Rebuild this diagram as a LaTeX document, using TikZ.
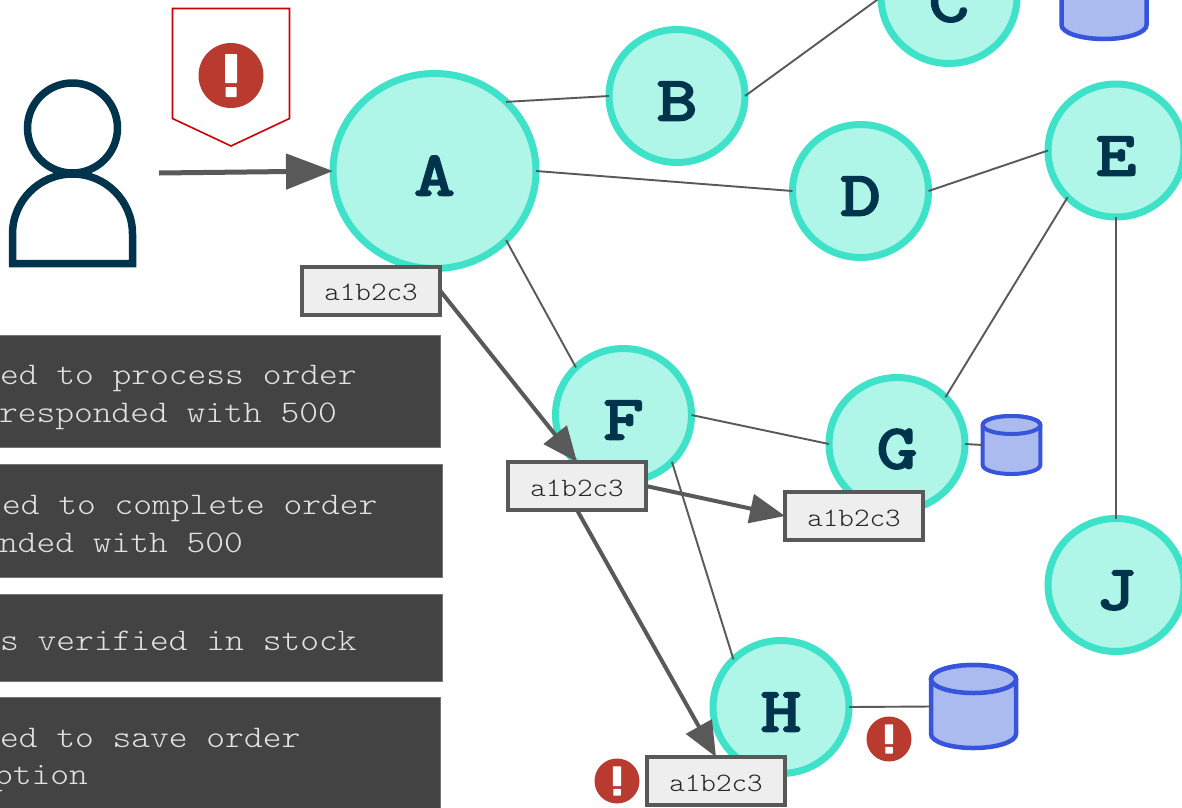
\documentclass[tikz,border=0pt]{standalone}
\usepackage{fontspec}
\usetikzlibrary{arrows.meta,shapes.geometric}
\newfontfamily\boldmono[FakeStretch=1.26,FakeBold=4]{Latin Modern Mono}
\newfontfamily\lightmono[FakeStretch=1.12]{Latin Modern Mono Light}
\newfontfamily\logmono[FakeStretch=1.135]{Latin Modern Mono Light}
\definecolor{ringc}{HTML}{3EE2C9}
\definecolor{fillc}{HTML}{AFF5E8}
\definecolor{inkc}{HTML}{00344D}
\definecolor{arrowc}{HTML}{595959}
\definecolor{alertc}{HTML}{B93A2F}
\definecolor{cylfill}{HTML}{ABBAEF}
\definecolor{cylline}{HTML}{3654DC}
\definecolor{darkc}{HTML}{434343}
\definecolor{darkline}{HTML}{757575}
\definecolor{tagfill}{HTML}{EEEEEE}
\definecolor{logink}{HTML}{E2E2E2}
\tikzset{
  svc/.style={ellipse,draw=ringc,fill=fillc,line width=7pt,outer sep=0pt,inner sep=0pt,
    minimum width=136pt,minimum height=133pt},
  bigsvc/.style={svc,minimum width=203pt,minimum height=195pt},
  svclabel/.style={anchor=base,inner sep=0pt,outer sep=0pt,text=inkc,
    font={\boldmono\fontsize{62}{62}\selectfont}},
  thin link/.style={draw=arrowc,line width=1.9pt},
  flow/.style={draw=arrowc,line width=4pt,-{Triangle[length=35pt,width=29pt]}},
  mainflow/.style={draw=arrowc,line width=5pt,-{Triangle[length=47pt,width=35pt]}},
  tag/.style={rectangle,draw=arrowc,fill=tagfill,line width=4pt,outer sep=0pt,inner sep=0pt,
    minimum width=138pt,minimum height=48pt},
  taglabel/.style={anchor=base,inner sep=0pt,outer sep=0pt,text=black!85,
    font={\lightmono\fontsize{26.5}{26.5}\selectfont}},
  logbox/.style={rectangle,draw=darkline,fill=darkc,line width=1pt,inner sep=0pt,outer sep=0pt,anchor=north west},
  logtext/.style={anchor=base west,inner sep=0pt,outer sep=0pt,text=logink,
    font={\logmono\fontsize{31.5}{31.5}\selectfont}},
  dbanchor/.style={rectangle,inner sep=0pt,outer sep=0pt},
  alertdot/.style={circle,fill=alertc,inner sep=0pt,outer sep=0pt}
}
\newcommand{\alertbars}[2]{% center name, scale
  \fill[white,rounded corners=.6pt] ([xshift=-6*#2 pt,yshift=21.5*#2 pt]#1.center) rectangle ([xshift=6*#2 pt,yshift=-7.5*#2 pt]#1.center);
  \fill[white,rounded corners=.6pt] ([xshift=-5.5*#2 pt,yshift=-11.5*#2 pt]#1.center) rectangle ([xshift=5.5*#2 pt,yshift=-21.5*#2 pt]#1.center);
}
% name, cx, cap y, rx, ry, side end y, line width
\newcommand{\dbshape}[7]{%
  \draw[draw=cylline,fill=cylfill,line width=#7pt] (#2-#4,#3) -- (#2-#4,#6) arc[start angle=180,end angle=0,x radius=#4,y radius=#5] -- (#2+#4,#3) arc[start angle=0,end angle=-180,x radius=#4,y radius=#5] -- cycle;
  \draw[draw=cylline,fill=cylfill,line width=#7pt] (#2,#3) ellipse[x radius=#4,y radius=#5];
  \node[dbanchor,minimum width=2*#4 pt,minimum height=#6-#3 pt] (#1) at (#2,{(#3+#6)/2}) {};
}
\begin{document}
\begin{tikzpicture}[x=1pt,y=-1pt]
\useasboundingbox (0,0) rectangle (1182,807);
\clip (0,0) rectangle (1182,807);
\fill[white] (0,0) rectangle (1182,807);

% person
\node[circle,draw=inkc,line width=7.5pt,minimum size=90pt,inner sep=0pt,outer sep=0pt] (head) at (72.5,128) {};
\draw[inkc,line width=7.5pt] (12.5,263.5) -- (12.5,234) arc[start angle=180,end angle=360,radius=60] -- (132.5,263.5) -- cycle;

% shield
\draw[draw=red!80!black,line width=1.6pt,line join=miter] (172.5,8.5) -- (289.5,8.5) -- (289.5,118.5) -- (231,146) -- (172.5,118.5) -- cycle;
\node[alertdot,minimum size=65pt] (alerttop) at (231,75.5) {};
\alertbars{alerttop}{1}

% logs
\node[logbox,minimum width=451pt,minimum height=112pt] (log1) at (-11,335) {};
\node[logbox,minimum width=453pt,minimum height=113pt] (log2) at (-11,464) {};
\node[logbox,minimum width=453pt,minimum height=87pt] (log3) at (-11,594) {};
\node[logbox,minimum width=451pt,minimum height=130pt] (log4) at (-11,697) {};
\node[logtext] (l1a) at (0,384) {ed to process order};
\node[logtext] (l1b) at (-1,422) {responded with 500};
\node[logtext] (l2a) at (2,514) {ed to complete order};
\node[logtext] (l2b) at (-1,552) {nded with 500};
\node[logtext] (l3a) at (0,650) {s verified in stock};
\node[logtext] (l4a) at (0,747) {ed to save order};
\node[logtext] (l4b) at (-6,784) {ption};

% services
\node[bigsvc] (A) at (434.5,171) {};
\node[svc] (B) at (677,96) {};
\node[svc] (C) at (949,-3) {};
\node[svc] (D) at (860.5,191) {};
\node[svc] (E) at (1116,150.5) {};
\node[svc] (F) at (623.5,415) {};
\node[svc] (G) at (897,444) {};
\node[svc] (H) at (781,707) {};
\node[svc] (J) at (1116,585) {};
\node[svclabel] (Al) at (434.5,195) {A};
\node[svclabel] (Bl) at (677,120) {B};
\node[svclabel] (Cl) at (949,21) {C};
\node[svclabel] (Dl) at (860.5,215) {D};
\node[svclabel] (El) at (1116,175) {E};
\node[svclabel] (Fl) at (623.5,439) {F};
\node[svclabel] (Gl) at (897,468) {G};
\node[svclabel] (Hl) at (781,731) {H};
\node[svclabel] (Jl) at (1116,609) {J};

% databases
\dbshape{db1}{1104}{-25}{42.5}{14}{25}{4.5}
\dbshape{db2}{1011.5}{425}{28.8}{9}{465}{4}
\dbshape{db3}{973.5}{679}{42.5}{14}{734}{4.5}

% thin links
\path[thin link] (A.44) -- (B.180);
\path[thin link] (B.0) -- (C.180);
\path[thin link] (A.0) -- (D.180);
\path[thin link] (D.0) -- (E.180);
\path[thin link] (E.224) -- (G.44);
\path[thin link] (E.south) -- (J.north);
\path[thin link] (A.-44) -- (F.135);
\path[thin link] (F.0) -- (G.180);
\path[thin link] (F.-44) -- (H.135);
\path[thin link] (G.0) -- (db2.west);
\path[thin link] (H.0) -- (db3.west);

% tags
\node[tag] (t1) at (371,290.5) {};
\node[tag] (t2) at (577,486) {};
\node[tag] (t3) at (854,516) {};
\node[tag] (t4) at (716,781) {};
\node[taglabel] (t1l) at (371,300) {a1b2c3};
\node[taglabel] (t2l) at (577,496) {a1b2c3};
\node[taglabel] (t3l) at (854,526) {a1b2c3};
\node[taglabel] (t4l) at (716,791) {a1b2c3};

% flows
\coordinate (pstart) at (159,173);
\path[mainflow] (pstart) -- (A.west);
\path[flow] (t1.east) -- (t2.north);
\path[flow] (t2.east) -- (t3.west);
\path[flow] (t2.south) -- (t4.north);

% alerts
\node[alertdot,minimum size=45pt] (alertH) at (889,739) {};
\alertbars{alertH}{0.68}
\node[alertdot,minimum size=45pt] (alertT) at (617,781) {};
\alertbars{alertT}{0.68}
\end{tikzpicture}
\end{document}
